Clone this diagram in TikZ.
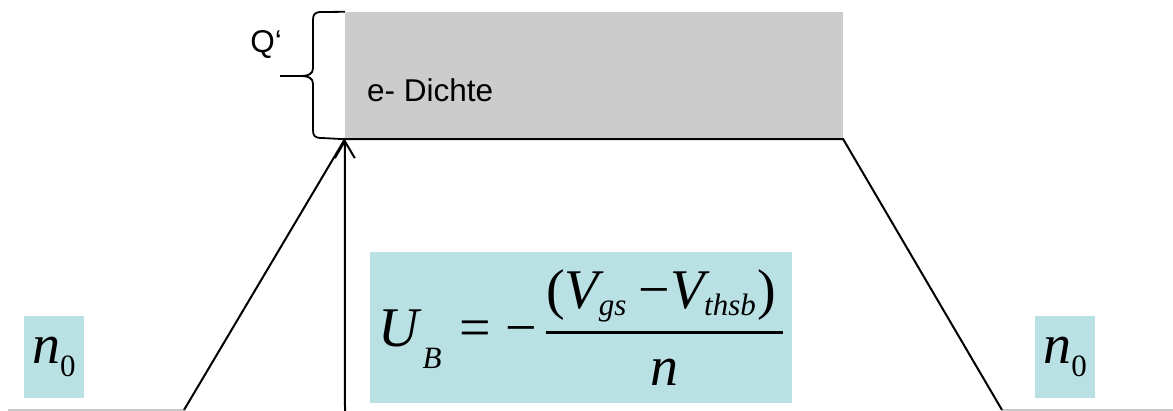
\RequirePackage{fix-cm}
\documentclass[tikz,border=0pt]{standalone}
\usepackage{amsmath}
\usepackage{fontspec}
\setmainfont{Liberation Sans}
\newfontfamily\timesfont{Liberation Serif}
\usetikzlibrary{positioning,arrows.meta}
\definecolor{bandgray}{RGB}{204,204,204}
\definecolor{eqcyan}{RGB}{185,224,227}
\definecolor{floorgray}{RGB}{200,200,200}
\newcommand{\vi}[1]{\text{\timesfont\itshape #1}}
\newcommand{\vu}[1]{\text{\timesfont #1}}
%% lowered subscript in Times, #1 = drop
\newcommand{\lsub}[2]{\mathord{\lower#1\hbox{\timesfont\itshape\fontsize{31}{31}\selectfont #2}}}
\newcommand{\lsubu}[2]{\mathord{\lower#1\hbox{\timesfont\fontsize{31}{31}\selectfont #2}}}

\begin{document}
\begin{tikzpicture}[
  x=1pt, y=-1pt,
  band/.style={fill=bandgray, minimum width=498pt, minimum height=127pt,
               inner sep=0pt},
  eqbox/.style={fill=eqcyan, inner sep=0pt,
                font=\fontsize{56}{60}\selectfont},
  nbox/.style={eqbox, minimum width=60pt, minimum height=82pt},
  lbl/.style={font=\fontsize{31.5}{36}\selectfont, inner sep=0pt},
  edge/.style={line width=2pt, black},
  floor/.style={line width=2pt, floorgray},
  brace/.style={line width=1.8pt, black},
  arr/.style={line width=2pt,
              -{Straight Barb[length=17pt, width=20pt, line width=2pt]}}
]
\useasboundingbox (0,0) rectangle (1173,411);

\node[band] (dichte) at (594,75.5) {};
\node[lbl, anchor=base west] (dtext) at (367,102) {e- Dichte};
\node[lbl, anchor=base east] (qlbl)  at (282,53)  {Q‘};

\node[eqbox, minimum width=422pt, minimum height=151pt] (ub) at (581,327.5)
  {$\vi{U}\kern4pt\lsub{22pt}{B}\kern18pt\vu{=}\kern14pt\vu{−}\kern8pt
    \genfrac{}{}{3pt}{0}{\vu{(}\vi{V}\lsub{7pt}{gs}\kern12pt\vu{−}\vi{V}\lsub{7pt}{thsb}\kern2pt\vu{)}\kern6pt}{\vi{n}}$};
\node[nbox] (nl) at (54,357)   {$\vi{n}\lsubu{13pt}{0}$};
\node[nbox] (nr) at (1065,357) {$\vi{n}\lsubu{13pt}{0}$};

%% ends of the floor and foot of the arrow
\coordinate (fl0)  at (8,410);
\coordinate (fl)   at (184,410);
\coordinate (fr)   at (1002,410);
\coordinate (fr0)  at (1173,410);
\coordinate (foot) at (345,411);
\coordinate (qtip) at (280,76);

\draw[floor] (fl0) -- (fl);
\draw[floor] (fr) -- (fr0);
\draw[edge] (fl) -- (dichte.south west) -- (dichte.south east) -- (fr);
\draw[arr] (foot) -- (dichte.south west);

%% curly brace for Q'
\draw[brace] (dichte.north west) -- (322,12)
  .. controls (315,12) and (313,14) .. (313,20) -- (313,68)
  .. controls (313,74) and (309,76) .. (299,76) -- (qtip);
\draw[brace] (qtip) -- (299,76)
  .. controls (309,76) and (313,78) .. (313,84) -- (313,130)
  .. controls (313,136) and (315,138) .. (322,138) -- (dichte.south west);
\end{tikzpicture}
\end{document}
